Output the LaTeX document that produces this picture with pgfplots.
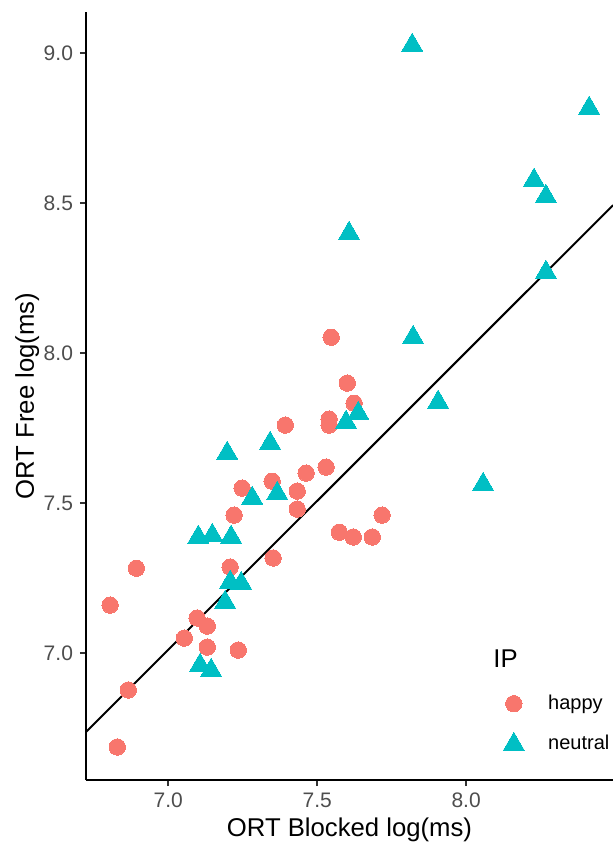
\documentclass[border=0pt]{standalone}
\usepackage{fontspec}
\setmainfont{Liberation Sans}
\usepackage{pgfplots}
\pgfplotsset{compat=1.18}
\definecolor{happyred}{HTML}{F8766D}
\definecolor{neutralcyan}{HTML}{00BFC4}
\definecolor{ticklab}{HTML}{4D4D4D}
\definecolor{tickcol}{HTML}{333333}

\pgfplotstableread{
x y
7.547 8.053
7.601 7.900
7.624 7.833
7.540 7.780
7.540 7.760
7.393 7.760
7.530 7.620
7.463 7.600
7.349 7.573
7.433 7.540
7.248 7.550
7.433 7.480
7.221 7.460
7.718 7.460
7.574 7.403
7.621 7.387
7.685 7.387
7.352 7.317
6.893 7.283
7.208 7.287
6.805 7.160
7.097 7.117
7.131 7.090
7.054 7.050
7.131 7.020
7.235 7.010
6.866 6.877
6.829 6.687
}\happy

\pgfplotstableread{
x y
7.819 9.027
8.413 8.817
8.228 8.577
8.268 8.523
8.268 8.270
7.607 8.400
7.822 8.053
7.906 7.837
7.638 7.800
7.597 7.770
7.342 7.700
7.198 7.667
7.366 7.533
7.282 7.517
8.057 7.563
7.101 7.387
7.148 7.393
7.211 7.387
7.208 7.237
7.245 7.233
7.191 7.170
7.107 6.960
7.144 6.943
}\neutral

\begin{document}
\begin{tikzpicture}
\begin{axis}[
    at={(0,0)}, anchor=south west,
    scale only axis,
    width=263.5pt, height=384pt,
    xmin=6.724, xmax=8.493,
    ymin=6.577, ymax=9.137,
    axis lines=left,
    axis line style={black, line width=1pt, -},
    xtick={7.0,7.5,8.0},
    ytick={7.0,7.5,8.0,8.5,9.0},
    xticklabels={7.0,7.5,8.0},
    yticklabels={7.0,7.5,8.0,8.5,9.0},
    tick align=outside,
    major tick length=3pt,
    tick style={tickcol, line width=1pt},
    /pgf/number format/assume math mode=true,
    tick label style={font=\fontsize{10.5}{12}\selectfont, text=ticklab},
    xlabel={ORT Blocked log(ms)},
    ylabel={ORT Free log(ms)},
    every axis x label/.style={at={(axis description cs:0.5,-0.0742)}, anchor=base,
        font=\fontsize{12.85}{15}\selectfont, text=black},
    every axis y label/.style={at={(axis description cs:-0.0987,0.5)}, rotate=90, anchor=base,
        font=\fontsize{12.85}{15}\selectfont, text=black},
    legend style={at={(axis description cs:0.780,0.073)}, anchor=west, draw=none, fill=none,
        font=\fontsize{10}{12}\selectfont, row sep=7.5pt,
        /tikz/every odd column/.append style={column sep=10pt}},
    legend cell align=left,
    clip=true,
]
\addplot[only marks, mark=*, color=happyred, mark size=4.1pt,
    mark options={fill=happyred, draw=happyred, line width=0pt}] table {\happy};
\addlegendentry{happy}
\addplot[only marks, mark=triangle*, color=neutralcyan, mark size=6pt,
    mark options={fill=neutralcyan, draw=neutralcyan, line width=0pt}] table {\neutral};
\addlegendentry{neutral}
\addplot[black, line width=1pt, forget plot] coordinates {(6.724,6.737) (8.493,8.493)};
\end{axis}
\node[anchor=base west, inner sep=0pt, font=\fontsize{12.85}{15}\selectfont] at (203.5pt,56.5pt) {IP};
\pgfresetboundingbox
\path[use as bounding box] (-43pt,-31.5pt) rectangle (263.5pt,390pt);
\end{tikzpicture}
\end{document}
